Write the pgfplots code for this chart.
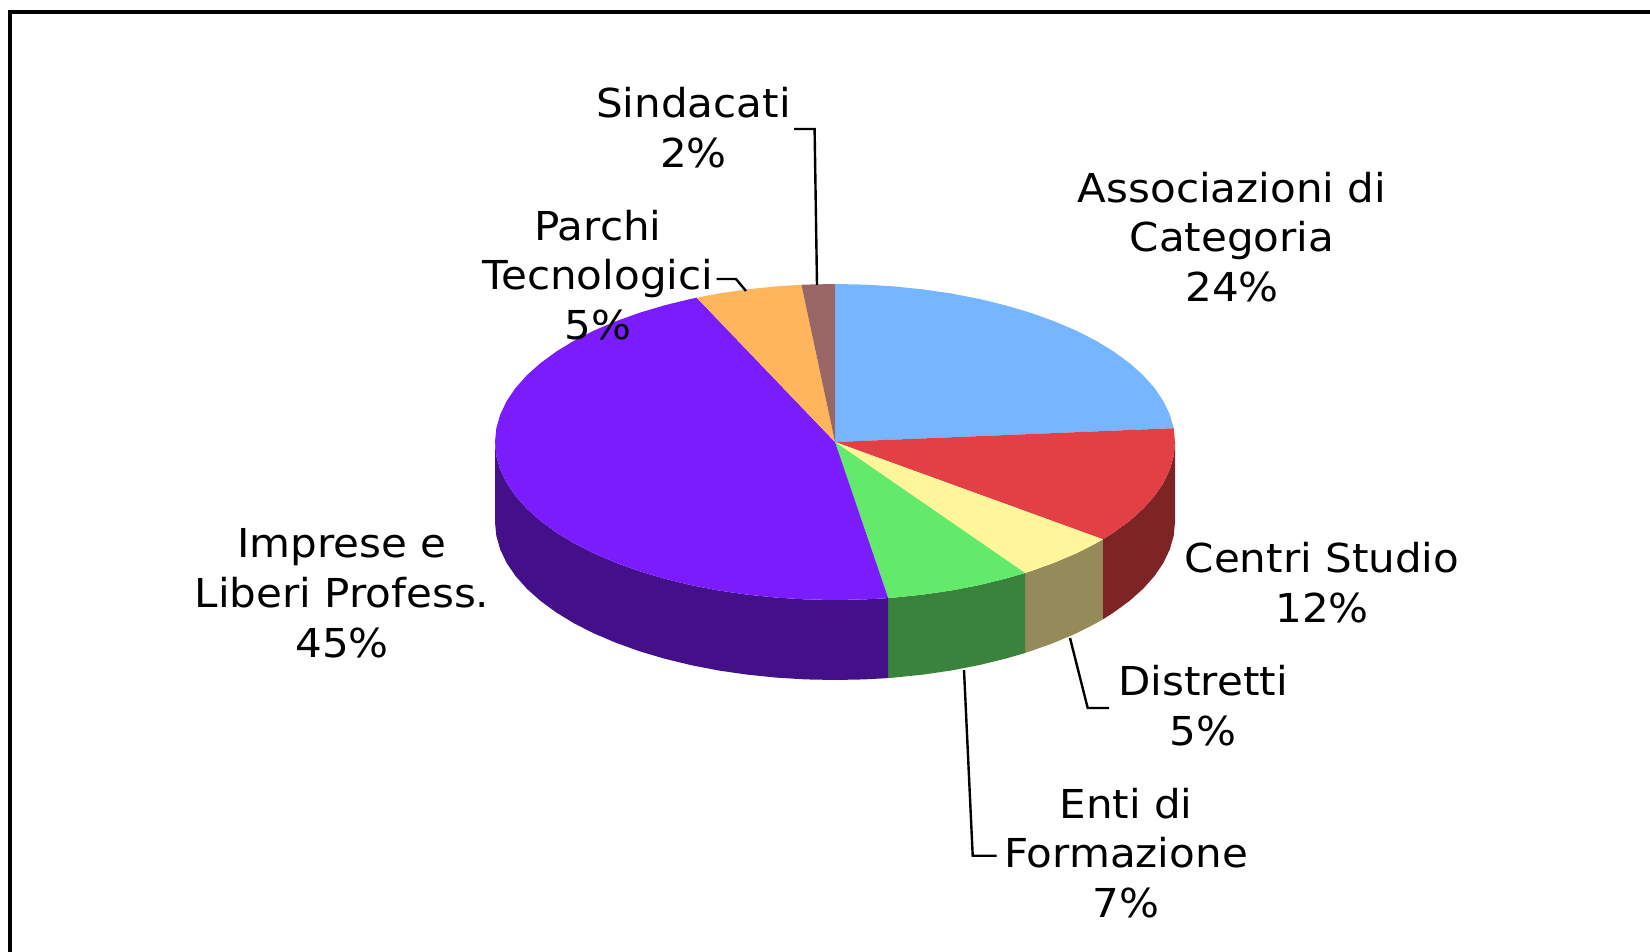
\documentclass[border=0pt]{standalone}
\usepackage{fontspec}
\setmainfont[FakeStretch=1.055]{DejaVu Sans}
\usepackage{pgfplots}
\pgfplotsset{compat=1.18}

\definecolor{cblue}{HTML}{76B5FF}
\definecolor{cred}{HTML}{E34046}
\definecolor{cyellow}{HTML}{FFF69C}
\definecolor{cgreen}{HTML}{64EA6A}
\definecolor{cpurple}{HTML}{7B1CFF}
\definecolor{corange}{HTML}{FFB55C}
\definecolor{cbrown}{HTML}{996666}
\definecolor{dred}{HTML}{7F2424}
\definecolor{dyellow}{HTML}{958B5A}
\definecolor{dgreen}{HTML}{3A833D}
\definecolor{dpurple}{HTML}{43108A}

\tikzset{lab/.style={align=center, anchor=center, inner sep=0pt,
    font=\fontsize{20}{25}\selectfont}}

\begin{document}
\begin{tikzpicture}
\begin{axis}[
  scale only axis,
  width=825bp,
  height=476bp,
  xmin=0, xmax=1650,
  ymin=0, ymax=952,
  y dir=reverse,
  hide axis,
  no markers,
  every axis plot/.append style={line join=miter},
]
\path (axis cs:0,0) rectangle (axis cs:1650,952);

% frame
\addplot[black, line width=1.6bp] coordinates {(10,952) (10,12) (1650,12)};

% sides of the pie
\addplot[draw=none, fill=dred] coordinates {
  (1175,442) (1173.7,455.8) (1169.8,469.4) (1163.4,482.9) (1154.5,496) (1143.1,508.8)
  (1129.4,521) (1113.5,532.6) (1102.9,539.3)
  (1102.9,619.3) (1113.5,612.6) (1129.4,601) (1143.1,588.8) (1154.5,576) (1163.4,562.9)
  (1169.8,549.4) (1173.7,535.8) (1175,522)} --cycle;
\addplot[draw=none, fill=dyellow] coordinates {
  (1102.9,539.3) (1095.5,543.6) (1075.4,553.7) (1053.5,563) (1030,571.4) (1025.1,573)
  (1025.1,653) (1030,651.4) (1053.5,643) (1075.4,633.7) (1095.5,623.6) (1102.9,619.3)} --cycle;
\addplot[draw=none, fill=dgreen] coordinates {
  (1025.1,573) (1005,578.8) (978.7,585.2) (951.3,590.5) (923,594.6) (894,597.6) (888.2,598.1)
  (888.2,678.1) (894,677.6) (923,674.6) (951.3,670.5) (978.7,665.2) (1005,658.8) (1025.1,653)} --cycle;
\addplot[draw=none, fill=dpurple] coordinates {
  (888.2,598.1) (864.6,599.4) (835,600) (805.4,599.4) (776,597.6) (747,594.6) (718.7,590.5)
  (691.3,585.2) (665,578.8) (640,571.4) (616.5,563) (594.6,553.7) (574.5,543.6) (556.5,532.6)
  (540.6,521) (526.9,508.8) (515.5,496) (506.6,482.9) (500.2,469.4) (496.3,455.8) (495,442)
  (495,522) (496.3,535.8) (500.2,549.4) (506.6,562.9) (515.5,576) (526.9,588.8) (540.6,601)
  (556.5,612.6) (574.5,623.6) (594.6,633.7) (616.5,643) (640,651.4) (665,658.8) (691.3,665.2)
  (718.7,670.5) (747,674.6) (776,677.6) (805.4,679.4) (835,680) (864.6,679.4) (888.2,678.1)} --cycle;

% top of the pie
% Associazioni di Categoria 24%
\addplot[draw=none, fill=cblue] coordinates {
  (835,442) (835,284) (864.6,284.6) (894,286.4) (923,289.4) (951.3,293.5) (978.7,298.8)
  (1005,305.2) (1030,312.6) (1053.5,321) (1075.4,330.3) (1095.5,340.4) (1113.5,351.4)
  (1129.4,363) (1143.1,375.2) (1154.5,388) (1163.4,401.1) (1169.8,414.6) (1173.7,428.2)} --cycle;
% Centri Studio 12%
\addplot[draw=none, fill=cred] coordinates {
  (835,442) (1173.7,428.2) (1175,442) (1173.7,455.8) (1169.8,469.4) (1163.4,482.9) (1154.5,496)
  (1143.1,508.8) (1129.4,521) (1113.5,532.6) (1102.9,539.3)} --cycle;
% Distretti 5%
\addplot[draw=none, fill=cyellow] coordinates {
  (835,442) (1102.9,539.3) (1095.5,543.6) (1075.4,553.7) (1053.5,563) (1030,571.4) (1025.1,573)} --cycle;
% Enti di Formazione 7%
\addplot[draw=none, fill=cgreen] coordinates {
  (835,442) (1025.1,573) (1005,578.8) (978.7,585.2) (951.3,590.5) (923,594.6) (894,597.6) (888.2,598.1)} --cycle;
% Imprese e Liberi Profess. 45%
\addplot[draw=none, fill=cpurple] coordinates {
  (835,442) (888.2,598.1) (864.6,599.4) (835,600) (805.4,599.4) (776,597.6) (747,594.6) (718.7,590.5)
  (691.3,585.2) (665,578.8) (640,571.4) (616.5,563) (594.6,553.7) (574.5,543.6) (556.5,532.6)
  (540.6,521) (526.9,508.8) (515.5,496) (506.6,482.9) (500.2,469.4) (496.3,455.8) (495,442)
  (496.3,428.2) (500.2,414.6) (506.6,401.1) (515.5,388) (526.9,375.2) (540.6,363) (556.5,351.4)
  (574.5,340.4) (594.6,330.3) (616.5,321) (640,312.6) (665,305.2) (691.3,298.8) (696.7,297.7)} --cycle;
% Parchi Tecnologici 5%
\addplot[draw=none, fill=corange] coordinates {
  (835,442) (696.7,297.7) (718.7,293.5) (747,289.4) (776,286.4) (801.4,284.8)} --cycle;
% Sindacati 2%
\addplot[draw=none, fill=cbrown] coordinates {
  (835,442) (801.4,284.8) (805.4,284.6) (835,284)} --cycle;

% leader lines
\addplot[black, line width=1.2bp] coordinates {(794,129) (814.6,129) (817,285)};
\addplot[black, line width=1.2bp] coordinates {(716.5,279) (736,279) (746,291)};
\addplot[black, line width=1.2bp] coordinates {(1070,638) (1087.7,708) (1109,708)};
\addplot[black, line width=1.2bp] coordinates {(964,670) (972.7,855.7) (996.7,855.7)};

% labels
\node[lab] at (axis cs:693.5,128) {Sindacati\\2\%};
\node[lab] at (axis cs:598,275) {Parchi\\Tecnologici\\5\%};
\node[lab] at (axis cs:1232,237) {Associazioni di\\Categoria\\24\%};
\node[lab] at (axis cs:1322,583) {Centri Studio\\12\%};
\node[lab] at (axis cs:1203,706) {Distretti\\5\%};
\node[lab] at (axis cs:1126,853) {Enti di\\Formazione\\7\%};
\node[lab] at (axis cs:342,593) {Imprese e\\Liberi Profess.\\45\%};
\end{axis}
\end{tikzpicture}
\end{document}
